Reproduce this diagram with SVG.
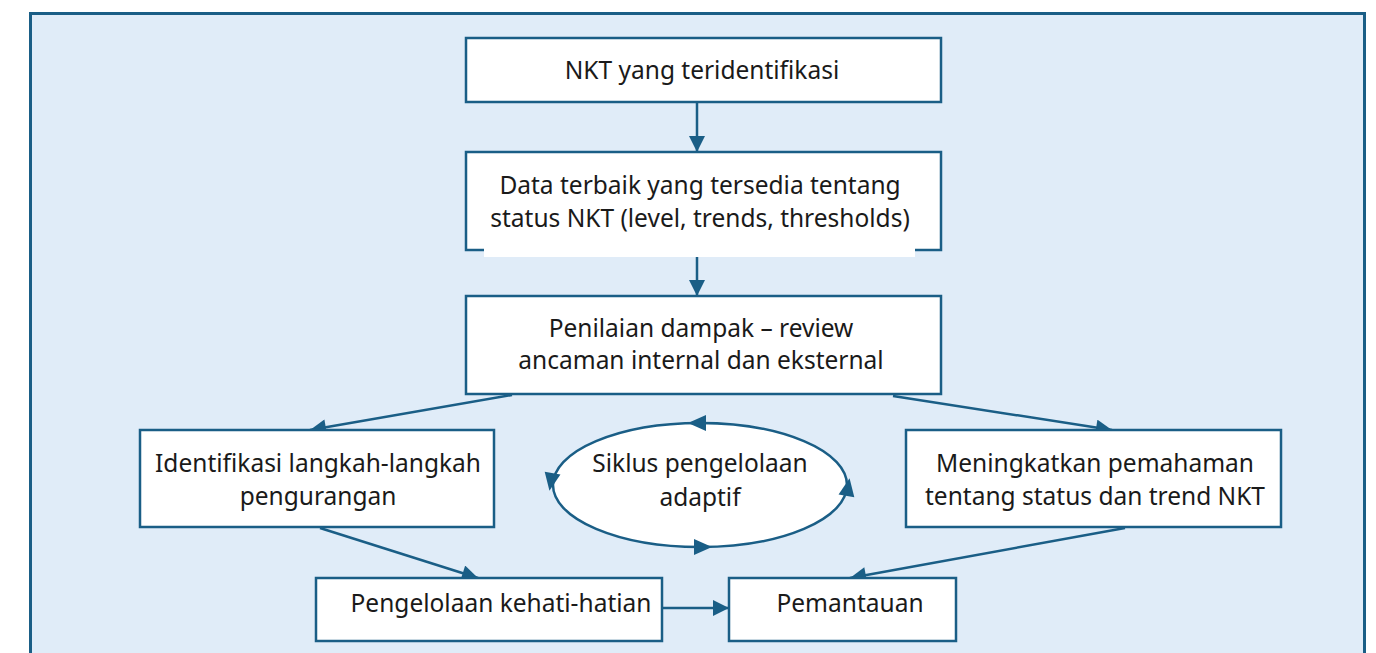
<svg xmlns="http://www.w3.org/2000/svg" width="1376" height="653" viewBox="0 0 1376 653">
<defs>
<style>
.box{fill:#ffffff;stroke:#1a5e86;stroke-width:2.5}
.ln{stroke:#1a5e86;stroke-width:2.5;fill:none}
.t{font-family:"Noto Sans","Liberation Sans",sans-serif;font-size:24.5px;fill:#1a1a1a;text-anchor:middle}
</style>
<marker id="ah" viewBox="0 0 10 10" refX="10" refY="5" markerWidth="17" markerHeight="16" markerUnits="userSpaceOnUse" orient="auto">
<path d="M0,0 L10,5 L0,10 Z" fill="#1a5e86"/>
</marker>
<path id="tri" d="M-9,-8 L9,0 L-9,8 Z" fill="#1a5e86"/>
</defs>
<rect x="30.5" y="13.5" width="1334" height="660" fill="#e0ecf8" stroke="#1a5e86" stroke-width="3"/>
<g id="connectors">
<line class="ln" x1="697" y1="102" x2="697" y2="152" marker-end="url(#ah)"/>
<line class="ln" x1="697" y1="250" x2="697" y2="296" marker-end="url(#ah)"/>
<line class="ln" x1="512" y1="395" x2="310" y2="430" marker-end="url(#ah)"/>
<line class="ln" x1="893" y1="396" x2="1112" y2="430" marker-end="url(#ah)"/>
<line class="ln" x1="320" y1="528" x2="478" y2="578" marker-end="url(#ah)"/>
<line class="ln" x1="1125" y1="528" x2="850" y2="578" marker-end="url(#ah)"/>
<line class="ln" x1="662" y1="608" x2="729" y2="608" marker-end="url(#ah)"/>
</g>
<g id="n1">
<rect class="box" x="466" y="38" width="475" height="64"/>
<text class="t" x="702" y="79">NKT yang teridentifikasi</text>
</g>
<g id="n2">
<rect class="box" x="466" y="152" width="475" height="98"/>
<rect x="484" y="247" width="431" height="10" fill="#ffffff"/>
<text class="t" x="700" y="194">Data terbaik yang tersedia tentang</text>
<text class="t" x="700" y="227">status NKT (level, trends, thresholds)</text>
</g>
<g id="n3">
<rect class="box" x="466" y="296" width="475" height="98"/>
<text class="t" x="701" y="337">Penilaian dampak – review</text>
<text class="t" x="701" y="369">ancaman internal dan eksternal</text>
</g>
<g id="n4">
<rect class="box" x="140" y="430" width="354" height="97"/>
<text class="t" x="318" y="472">Identifikasi langkah-langkah</text>
<text class="t" x="318" y="505">pengurangan</text>
</g>
<g id="n5">
<ellipse cx="700" cy="485" rx="147" ry="62" fill="#ffffff" stroke="#1a5e86" stroke-width="2.5"/>
<use href="#tri" transform="translate(697,423) rotate(180)"/>
<use href="#tri" transform="translate(703,547)"/>
<use href="#tri" transform="translate(551,482) rotate(100)"/>
<use href="#tri" transform="translate(848,487) rotate(-80)"/>
<text class="t" x="700" y="472">Siklus pengelolaan</text>
<text class="t" x="700" y="506">adaptif</text>
</g>
<g id="n6">
<rect class="box" x="906" y="430" width="375" height="97"/>
<text class="t" x="1095" y="472">Meningkatkan pemahaman</text>
<text class="t" x="1095" y="505">tentang status dan trend NKT</text>
</g>
<g id="n7">
<rect class="box" x="316" y="578" width="346" height="63"/>
<text class="t" x="501" y="612">Pengelolaan kehati-hatian</text>
</g>
<g id="n8">
<rect class="box" x="729" y="578" width="227" height="63"/>
<text class="t" x="850" y="612">Pemantauan</text>
</g>
</svg>
